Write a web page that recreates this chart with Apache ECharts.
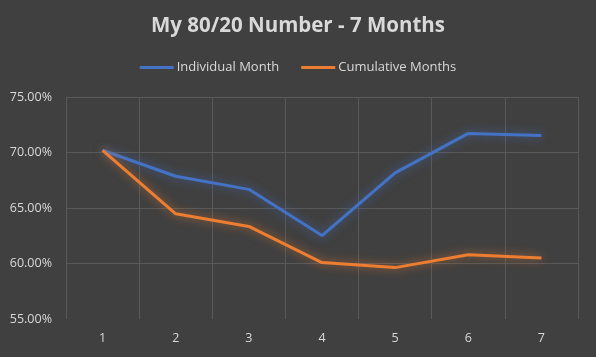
<!DOCTYPE html>
<html><head><meta charset="utf-8">
<script src="https://cdn.jsdelivr.net/npm/echarts@6/dist/echarts.min.js"></script>
<style>html,body{margin:0;padding:0;background:#404040}#c{width:596px;height:357px}</style>
</head><body><div id="c"></div>
<script>
const categories = ['1','2','3','4','5','6','7'];
const individualMonth = [70.2, 67.86, 66.68, 62.52, 68.16, 71.72, 71.53];
const cumulativeMonths = [70.2, 64.48, 63.34, 60.08, 59.63, 60.78, 60.5];
const seriesNames = ['Individual Month', 'Cumulative Months'];

const chart = echarts.init(document.getElementById('c'));
const txt = '#d9d9d9';
const font = '"Open Sans", "Noto Sans", sans-serif';
chart.setOption({
  backgroundColor: '#404040',
  animation: false,
  title: {
    text: 'My 80/20 Number - 7 Months',
    left: 'center', top: 11,
    textStyle: { color: txt, fontSize: 20.5, fontWeight: 'bold', fontFamily: font }
  },
  legend: {
    top: 56, left: 'center', itemGap: 22, itemWidth: 34, itemHeight: 3,
    icon: 'rect',
    textStyle: { color: txt, fontSize: 13, fontFamily: font, padding: [0,0,0,-2] },
    data: seriesNames
  },
  grid: { left: 66, right: 18, top: 97, bottom: 38 },
  xAxis: {
    type: 'category', data: categories, boundaryGap: true,
    axisLine: { show: false }, axisTick: { show: false },
    axisLabel: { color: txt, fontSize: 12.5, fontFamily: font, margin: 13 },
    splitLine: { show: true, lineStyle: { color: '#595959', width: 1 } }
  },
  yAxis: {
    type: 'value', min: 55, max: 75, interval: 5,
    axisLine: { show: false }, axisTick: { show: false },
    axisLabel: { color: txt, fontSize: 12.5, fontFamily: font, margin: 14,
      formatter: v => v.toFixed(2) + '%' },
    splitLine: { showMinLine: false, lineStyle: { color: '#595959', width: 1 } }
  },
  series: [
    { name: seriesNames[0], type: 'line', data: individualMonth, showSymbol: false,
      color: '#4472C4',
      lineStyle: { width: 3, color: '#4472C4', shadowBlur: 10, shadowColor: 'rgba(68,114,196,0.7)' } },
    { name: seriesNames[1], type: 'line', data: cumulativeMonths, showSymbol: false,
      color: '#ED7D31',
      lineStyle: { width: 3, color: '#ED7D31', shadowBlur: 10, shadowColor: 'rgba(237,125,49,0.7)' } }
  ]
});
</script></body></html>
